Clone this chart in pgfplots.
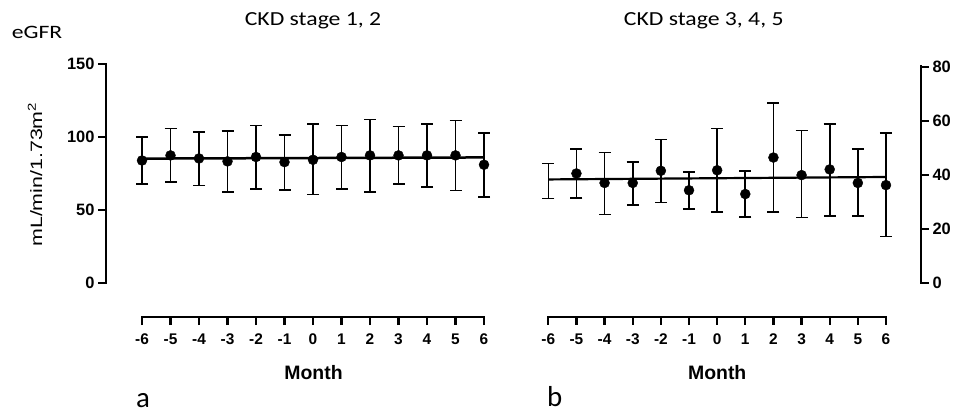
\documentclass[border=0pt]{standalone}
\usepackage{pgfplots}
\pgfplotsset{compat=1.18}
\usepackage{pgfplotstable}
\usepackage{graphicx}
\usepackage{fontspec}
\setmainfont{Liberation Sans}
\newfontfamily\calib{Carlito}

\pgfplotstableread{
x y ep em
-6 83.9 16.3 15.9
-5 87.4 18.5 18.1
-4 85.3 18.1 18.5
-3 83.3 21.0 21.1
-2 86.3 21.7 21.8
-1 82.8 18.6 19.0
0 84.4 24.3 23.8
1 86.3 21.5 21.8
2 87.4 24.5 24.9
3 87.4 19.9 19.7
4 87.4 21.7 21.7
5 87.4 23.8 24.0
6 81.0 21.7 22.0
}\leftdata

\pgfplotstableread{
x y ep em
-5 40.5 9.1 9.1
-4 37.0 11.3 11.6
-3 37.0 7.7 8.2
-2 41.5 11.5 11.7
-1 34.3 6.8 7.0
0 41.7 15.5 15.5
1 32.9 8.5 8.5
2 46.4 20.2 20.2
3 39.9 16.5 15.7
4 42.0 16.9 17.2
5 37.0 12.5 12.2
6 36.2 19.2 19.0
}\rightdata

\pgfplotstableread{
x y ep em
-6 38.0 6.2 6.7
}\rightfirst

\pgfplotsset{
  panel/.style={
    scale only axis, clip=false,
    axis line style={draw=none,-},
    tick align=outside,
    major tick length=8bp,
    tick style={black, line width=2.2bp},
    xtick={-6,-5,-4,-3,-2,-1,0,1,2,3,4,5,6},
    xticklabels={-6,-5,-4,-3,-2,-1,0,1,2,3,4,5,6},
    xticklabel style={font=\bfseries\fontsize{15.5}{15.5}\selectfont, yshift=-5bp},
    yticklabel style={font=\bfseries\fontsize{16.5}{16.5}\selectfont},
    /pgf/number format/assume math mode=true,
    axis x line*=bottom,
  },
  ebars/.style={
    error bars/y dir=both, error bars/y explicit,
    error bars/error bar style={draw=black, solid, line width=1.6bp},
    error bars/error mark options={rotate=90, mark size=6bp, line width=1.6bp, draw=black}},
  pts/.style={only marks, mark=*, black, mark size=5bp, ebars},
}

\begin{document}
\begin{tikzpicture}
\useasboundingbox (0bp,0bp) rectangle (953bp,413bp);

% Left panel
\begin{axis}[panel,
  at={(106bp,96bp)}, anchor=south west,
  width=392.25bp, height=253.0bp,
  xmin=-7.2632, xmax=6.5, ymin=-23.288, ymax=150,
  axis y line*=left,
  ytick={0,50,100,150},
]
\addplot[black, line width=2.5bp, no marks] coordinates {(-6,85.2) (6,86.0)};
\addplot[pts] table[x=x, y=y, y error plus=ep, y error minus=em] {\leftdata};
\draw[black, line width=2.6bp, line cap=rect] (axis cs:-7.2632,0) -- (axis cs:-7.2632,150);
\draw[black, line width=2.6bp, line cap=rect] (axis cs:-6,-23.288) -- (axis cs:6,-23.288);
\end{axis}

% Right panel
\begin{axis}[panel,
  at={(531.42bp,96bp)}, anchor=south west,
  width=389.56bp, height=250.32bp,
  xmin=-6.6, xmax=7.2438, ymin=-12.574, ymax=80,
  axis y line*=right,
  ytick={0,20,40,60,80},
]
\addplot[black, line width=2.2bp, no marks] coordinates {(-6,38.3) (6,39.2)};
\addplot[pts] table[x=x, y=y, y error plus=ep, y error minus=em] {\rightdata};
\addplot[draw=none, mark=none, ebars] table[x=x, y=y, y error plus=ep, y error minus=em] {\rightfirst};
\draw[black, line width=2.6bp, line cap=rect] (axis cs:7.2438,0) -- (axis cs:7.2438,80);
\draw[black, line width=2.6bp, line cap=rect] (axis cs:-6,-12.574) -- (axis cs:6,-12.574);
\end{axis}

% Texts
\node[anchor=base, inner sep=0pt, font=\calib\fontsize{20}{20}\selectfont] at (313bp,387bp) {\scalebox{1.19}[1]{CKD stage 1, 2}};
\node[anchor=base, inner sep=0pt, font=\calib\fontsize{20}{20}\selectfont] at (703.7bp,387bp) {\scalebox{1.19}[1]{CKD stage 3, 4, 5}};
\node[anchor=base west, inner sep=0pt, font=\calib\fontsize{19}{19}\selectfont] at (11.7bp,374.7bp) {\scalebox{1.25}[1]{eGFR}};
\node[rotate=90, inner sep=0pt, font=\fontsize{16.5}{16.5}\selectfont] at (35bp,238.5bp) {\scalebox{1.3}[1]{mL/min/1.73m\textsuperscript{2}}};
\node[anchor=base, inner sep=0pt, font=\bfseries\fontsize{19.5}{19.5}\selectfont] at (313.5bp,34bp) {Month};
\node[anchor=base, inner sep=0pt, font=\bfseries\fontsize{19.5}{19.5}\selectfont] at (717.2bp,34bp) {Month};
\node[anchor=base west, inner sep=0pt, font=\calib\fontsize{29}{29}\selectfont] at (136bp,6bp) {a};
\node[anchor=base west, inner sep=0pt, font=\calib\fontsize{29}{29}\selectfont] at (547bp,6.3bp) {b};
\end{tikzpicture}
\end{document}
